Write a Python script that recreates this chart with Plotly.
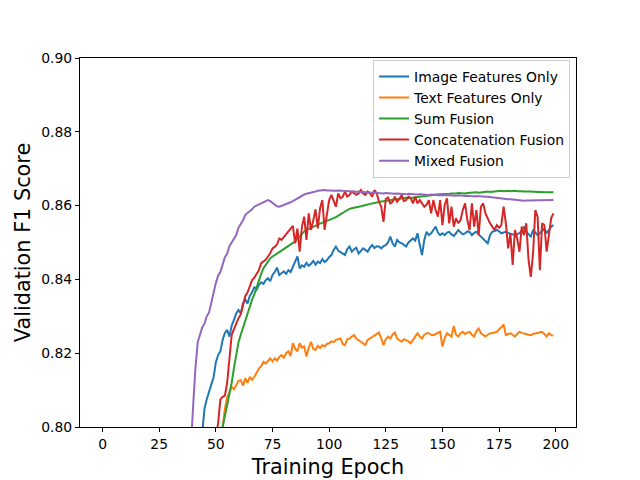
import plotly.graph_objects as go

epochs = list(range(200))

image_only = [
    0.312, 0.325, 0.337, 0.350, 0.362, 0.375, 0.387, 0.399, 0.411, 0.423,
    0.435, 0.447, 0.459, 0.471, 0.483, 0.495, 0.507, 0.519, 0.531, 0.543,
    0.555, 0.567, 0.579, 0.591, 0.603, 0.614, 0.626, 0.637, 0.648, 0.659,
    0.670, 0.681, 0.691, 0.701, 0.711, 0.721, 0.730, 0.739, 0.748, 0.757,
    0.766, 0.775, 0.784, 0.792, 0.799, 0.805, 0.8075, 0.8095, 0.811, 0.8135,
    0.8175, 0.8195, 0.8205, 0.8236, 0.8255, 0.8263, 0.8245, 0.8275, 0.829, 0.8308,
    0.8317, 0.8308, 0.8335, 0.8345, 0.8335, 0.8355, 0.8365, 0.8380, 0.8372, 0.8385,
    0.8392, 0.8388, 0.8398, 0.8403, 0.8395, 0.8412, 0.8420, 0.8432, 0.8412, 0.8418,
    0.8422, 0.8415, 0.8425, 0.8420, 0.8432, 0.8448, 0.8462, 0.8430, 0.8438, 0.8434,
    0.8445, 0.8437, 0.8442, 0.8450, 0.8440, 0.8448, 0.8444, 0.8455, 0.8447, 0.8452,
    0.8460, 0.8466, 0.8480, 0.8489, 0.8478, 0.8475, 0.8470, 0.8466, 0.8482, 0.8489,
    0.8475, 0.8482, 0.8486, 0.8470, 0.8478, 0.8484, 0.8480, 0.8475, 0.8486, 0.8493,
    0.8485, 0.8490, 0.8489, 0.8484, 0.8490, 0.8493, 0.8500, 0.8516, 0.8498, 0.8489,
    0.8507, 0.8500, 0.8498, 0.8494, 0.8489, 0.8500, 0.8507, 0.8511, 0.8505, 0.8525,
    0.8493, 0.8466, 0.8507, 0.8529, 0.8520, 0.8525, 0.8534, 0.8543, 0.8527, 0.8520,
    0.8525, 0.8520, 0.8527, 0.8529, 0.8522, 0.8518, 0.8525, 0.8534, 0.8528, 0.8522,
    0.8525, 0.8530, 0.8529, 0.8520, 0.8526, 0.8529, 0.8522, 0.8516, 0.8511, 0.8505,
    0.8498, 0.8520, 0.8529, 0.8531, 0.8534, 0.8530, 0.8525, 0.8527, 0.8529, 0.8526,
    0.8525, 0.8522, 0.8520, 0.8523, 0.8525, 0.8532, 0.8543, 0.8529, 0.8522, 0.8516,
    0.8534, 0.8527, 0.8520, 0.8525, 0.8532, 0.8538, 0.8525, 0.8534, 0.8543, 0.8547,
]

text_only = [
    0.290, 0.302, 0.313, 0.325, 0.337, 0.348, 0.360, 0.371, 0.383, 0.394,
    0.406, 0.417, 0.428, 0.440, 0.451, 0.462, 0.473, 0.485, 0.496, 0.507,
    0.518, 0.529, 0.540, 0.551, 0.562, 0.572, 0.583, 0.594, 0.604, 0.615,
    0.625, 0.635, 0.645, 0.655, 0.665, 0.675, 0.684, 0.694, 0.703, 0.712,
    0.721, 0.729, 0.737, 0.745, 0.752, 0.759, 0.765, 0.771, 0.777, 0.782,
    0.787, 0.791, 0.795, 0.800, 0.805, 0.808, 0.8095, 0.8109, 0.8102, 0.8112,
    0.8125, 0.8127, 0.8112, 0.8132, 0.8120, 0.8136, 0.8128, 0.8136, 0.8148, 0.8158,
    0.8165, 0.8177, 0.8172, 0.8180, 0.8186, 0.8178, 0.8186, 0.8180, 0.8190, 0.8195,
    0.8188, 0.8200, 0.8205, 0.8192, 0.8227, 0.8213, 0.8205, 0.8227, 0.8215, 0.8218,
    0.8191, 0.8215, 0.8231, 0.8212, 0.8209, 0.8220, 0.8214, 0.8222, 0.8218, 0.8225,
    0.8227, 0.8232, 0.8230, 0.8236, 0.8238, 0.8240, 0.8225, 0.8222, 0.8238, 0.8240,
    0.8245, 0.8249, 0.8240, 0.8236, 0.8232, 0.8226, 0.8222, 0.8236, 0.8240, 0.8245,
    0.8249, 0.8252, 0.8256, 0.8240, 0.8222, 0.8238, 0.8245, 0.8240, 0.8250, 0.8256,
    0.8240, 0.8235, 0.8231, 0.8238, 0.8236, 0.8232, 0.8227, 0.8238, 0.8245, 0.8254,
    0.8245, 0.8240, 0.8250, 0.8254, 0.8254, 0.8250, 0.8249, 0.8252, 0.8256, 0.8258,
    0.8218, 0.8240, 0.8254, 0.8249, 0.8245, 0.8274, 0.8250, 0.8245, 0.8254, 0.8258,
    0.8252, 0.8256, 0.8258, 0.8250, 0.8245, 0.8260, 0.8267, 0.8254, 0.8249, 0.8245,
    0.8250, 0.8254, 0.8254, 0.8256, 0.8258, 0.8265, 0.8270, 0.8278, 0.8249, 0.8252,
    0.8254, 0.8250, 0.8245, 0.8252, 0.8258, 0.8255, 0.8254, 0.8252, 0.8250, 0.8249,
    0.8252, 0.8254, 0.8256, 0.8258, 0.8258, 0.8252, 0.8245, 0.8254, 0.8249, 0.8248,
]

sum_fusion = [
    0.300, 0.312, 0.323, 0.336, 0.347, 0.360, 0.371, 0.383, 0.395, 0.406,
    0.418, 0.430, 0.442, 0.453, 0.465, 0.477, 0.489, 0.500, 0.512, 0.524,
    0.535, 0.547, 0.558, 0.570, 0.581, 0.593, 0.604, 0.615, 0.626, 0.637,
    0.648, 0.658, 0.668, 0.678, 0.687, 0.696, 0.705, 0.713, 0.721, 0.728,
    0.735, 0.742, 0.749, 0.755, 0.761, 0.767, 0.772, 0.777, 0.781, 0.785,
    0.789, 0.793, 0.797, 0.800, 0.803, 0.806, 0.809, 0.812, 0.816, 0.820,
    0.823, 0.825, 0.827, 0.829, 0.831, 0.833, 0.8345, 0.836, 0.838, 0.840,
    0.8415, 0.843, 0.8440, 0.8450, 0.8457, 0.8462, 0.8467, 0.8470, 0.8474, 0.8478,
    0.8483, 0.8488, 0.8492, 0.8495, 0.8498, 0.8503, 0.8510, 0.8517, 0.8524, 0.8530,
    0.8534, 0.8537, 0.8541, 0.8543, 0.8546, 0.8549, 0.8552, 0.8554, 0.8556, 0.8558,
    0.8560, 0.8563, 0.8566, 0.8569, 0.8572, 0.8576, 0.8580, 0.8584, 0.8588, 0.8591,
    0.8593, 0.8595, 0.8596, 0.8597, 0.8598, 0.8600, 0.8601, 0.8603, 0.8604, 0.8606,
    0.8607, 0.8609, 0.8610, 0.8611, 0.8612, 0.8613, 0.8614, 0.8615, 0.8616, 0.8617,
    0.8618, 0.8619, 0.8620, 0.8620, 0.8621, 0.8620, 0.8621, 0.8622, 0.8622, 0.8623,
    0.8624, 0.8625, 0.8626, 0.8627, 0.8628, 0.8629, 0.8629, 0.8630, 0.8630, 0.8631,
    0.8631, 0.8632, 0.8631, 0.8632, 0.8633, 0.8632, 0.8633, 0.8634, 0.8633, 0.8634,
    0.8633, 0.8634, 0.8635, 0.8634, 0.8635, 0.8636, 0.8635, 0.8636, 0.8637, 0.8637,
    0.8638, 0.8637, 0.8638, 0.8639, 0.8638, 0.8639, 0.8640, 0.8639, 0.8640, 0.8640,
    0.8639, 0.8640, 0.8640, 0.8639, 0.8640, 0.8639, 0.8638, 0.8639, 0.8638, 0.8638,
    0.8637, 0.8638, 0.8637, 0.8637, 0.8636, 0.8637, 0.8636, 0.8636, 0.8636, 0.8636,
]

concat_fusion = [
    0.295, 0.307, 0.320, 0.331, 0.344, 0.355, 0.368, 0.379, 0.392, 0.403,
    0.415, 0.427, 0.439, 0.451, 0.462, 0.474, 0.486, 0.497, 0.509, 0.520,
    0.531, 0.543, 0.554, 0.565, 0.576, 0.587, 0.598, 0.609, 0.619, 0.630,
    0.640, 0.650, 0.660, 0.670, 0.680, 0.689, 0.698, 0.707, 0.716, 0.725,
    0.733, 0.741, 0.749, 0.757, 0.764, 0.771, 0.778, 0.784, 0.789, 0.794,
    0.797, 0.801, 0.8075, 0.8082, 0.8085, 0.8120, 0.8191, 0.8250, 0.8265, 0.8281,
    0.8295, 0.8305, 0.8330, 0.8355, 0.8365, 0.8380, 0.8398, 0.8405, 0.8415, 0.8425,
    0.8444, 0.8448, 0.8453, 0.8462, 0.8471, 0.8484, 0.8488, 0.8495, 0.8511, 0.8507,
    0.8515, 0.8522, 0.8530, 0.8538, 0.8545, 0.8498, 0.8538, 0.8475, 0.8543, 0.8570,
    0.8507, 0.8579, 0.8534, 0.8560, 0.8590, 0.8538, 0.8593, 0.8615, 0.8534, 0.8575,
    0.8615, 0.8629, 0.8611, 0.8597, 0.8633, 0.8620, 0.8624, 0.8638, 0.8624, 0.8629,
    0.8638, 0.8633, 0.8629, 0.8633, 0.8642, 0.8633, 0.8629, 0.8638, 0.8633, 0.8624,
    0.8642, 0.8633, 0.8611, 0.8597, 0.8556, 0.8618, 0.8622, 0.8606, 0.8610, 0.8624,
    0.8610, 0.8618, 0.8629, 0.8612, 0.8615, 0.8624, 0.8620, 0.8606, 0.8624, 0.8606,
    0.8615, 0.8606, 0.8597, 0.8602, 0.8615, 0.8579, 0.8615, 0.8588, 0.8570, 0.8615,
    0.8547, 0.8602, 0.8620, 0.8552, 0.8597, 0.8543, 0.8566, 0.8552, 0.8561, 0.8588,
    0.8606, 0.8561, 0.8534, 0.8606, 0.8543, 0.8588, 0.8520, 0.8597, 0.8606, 0.8579,
    0.8565, 0.8552, 0.8543, 0.8534, 0.8547, 0.8540, 0.8547, 0.8597, 0.8552, 0.8484,
    0.8525, 0.8439, 0.8534, 0.8511, 0.8475, 0.8543, 0.8520, 0.8552, 0.8453, 0.8407,
    0.8471, 0.8588, 0.8570, 0.8425, 0.8552, 0.8547, 0.8475, 0.8520, 0.8566, 0.8579,
]

mixed_fusion = [
    0.305, 0.318, 0.327, 0.339, 0.348, 0.361, 0.370, 0.382, 0.391, 0.399,
    0.410, 0.425, 0.440, 0.455, 0.470, 0.485, 0.500, 0.515, 0.530, 0.545,
    0.560, 0.574, 0.588, 0.602, 0.615, 0.628, 0.641, 0.654, 0.666, 0.678,
    0.690, 0.703, 0.716, 0.727, 0.738, 0.749, 0.760, 0.772, 0.784, 0.795,
    0.806, 0.816, 0.823, 0.825, 0.827, 0.828, 0.830, 0.831, 0.834, 0.837,
    0.839, 0.841, 0.842, 0.844, 0.846, 0.847, 0.849, 0.850, 0.851, 0.852,
    0.854, 0.855, 0.856, 0.8575, 0.858, 0.8583, 0.859, 0.8597, 0.8600, 0.8603,
    0.8606, 0.8611, 0.8613, 0.8615, 0.8612, 0.8607, 0.8602, 0.8598, 0.8597, 0.8599,
    0.8602, 0.8603, 0.8607, 0.8609, 0.8612, 0.8616, 0.8620, 0.8623, 0.8627, 0.8630,
    0.8632, 0.8633, 0.8635, 0.8637, 0.8638, 0.8640, 0.8641, 0.8642, 0.8642, 0.8641,
    0.8642, 0.8641, 0.8640, 0.8641, 0.8642, 0.8641, 0.8640, 0.8639, 0.8640, 0.8639,
    0.8638, 0.8639, 0.8637, 0.8638, 0.8636, 0.8637, 0.8636, 0.8635, 0.8636, 0.8635,
    0.8635, 0.8634, 0.8635, 0.8634, 0.8633, 0.8634, 0.8633, 0.8634, 0.8633, 0.8632,
    0.8633, 0.8632, 0.8633, 0.8632, 0.8631, 0.8632, 0.8631, 0.8630, 0.8631, 0.8630,
    0.8631, 0.8630, 0.8631, 0.8630, 0.8629, 0.8630, 0.8629, 0.8629, 0.8628, 0.8629,
    0.8628, 0.8629, 0.8628, 0.8628, 0.8627, 0.8628, 0.8627, 0.8628, 0.8627, 0.8627,
    0.8626, 0.8627, 0.8626, 0.8626, 0.8625, 0.8626, 0.8625, 0.8625, 0.8624, 0.8624,
    0.8624, 0.8623, 0.8623, 0.8622, 0.8622, 0.8621, 0.8620, 0.8619, 0.8618, 0.8617,
    0.8617, 0.8616, 0.8615, 0.8614, 0.8613, 0.8613, 0.8613, 0.8614, 0.8614, 0.8615,
    0.8615, 0.8614, 0.8615, 0.8615, 0.8614, 0.8615, 0.8615, 0.8614, 0.8615, 0.8615,
]

series_names = ["Image Features Only", "Text Features Only", "Sum Fusion",
                "Concatenation Fusion", "Mixed Fusion"]
series_values = [image_only, text_only, sum_fusion, concat_fusion, mixed_fusion]
colors = ["#1f77b4", "#ff7f0e", "#2ca02c", "#d62728", "#9467bd"]

x_ticks = [0, 25, 50, 75, 100, 125, 150, 175, 200]
y_ticks = [0.80, 0.82, 0.84, 0.86, 0.88, 0.90]

fig = go.Figure()
for name, vals, col in zip(series_names, series_values, colors):
    fig.add_trace(go.Scatter(x=epochs, y=vals, mode="lines", name=name,
                             line=dict(color=col, width=2)))

font = "DejaVu Sans, sans-serif"
fig.update_layout(
    width=632, height=472,
    margin=dict(l=72, r=64, t=50, b=53),
    paper_bgcolor="white", plot_bgcolor="white",
    font=dict(family=font, size=13.9, color="black"),
    showlegend=True,
    legend=dict(x=0.988, y=0.995, xanchor="right", yanchor="top",
                bgcolor="rgba(255,255,255,0.8)", bordercolor="#cccccc",
                borderwidth=1, font=dict(size=13.9, family=font)),
    xaxis=dict(range=[-9.95, 208.95], tickvals=x_ticks, automargin=False,
               ticks="outside", ticklen=4, tickwidth=1, tickcolor="black",
               showline=True, linecolor="black", linewidth=1, mirror=True,
               showgrid=False, zeroline=False,
               title=dict(text="Training Epoch", font=dict(size=20.8), standoff=8)),
    yaxis=dict(range=[0.80, 0.90], tickvals=y_ticks, tickformat=".2f", automargin=False,
               ticks="outside", ticklen=4, tickwidth=1, tickcolor="black",
               showline=True, linecolor="black", linewidth=1, mirror=True,
               showgrid=False, zeroline=False,
               title=dict(text="Validation F1 Score", font=dict(size=20.8), standoff=5)),
)

fig.write_html("out.html")
